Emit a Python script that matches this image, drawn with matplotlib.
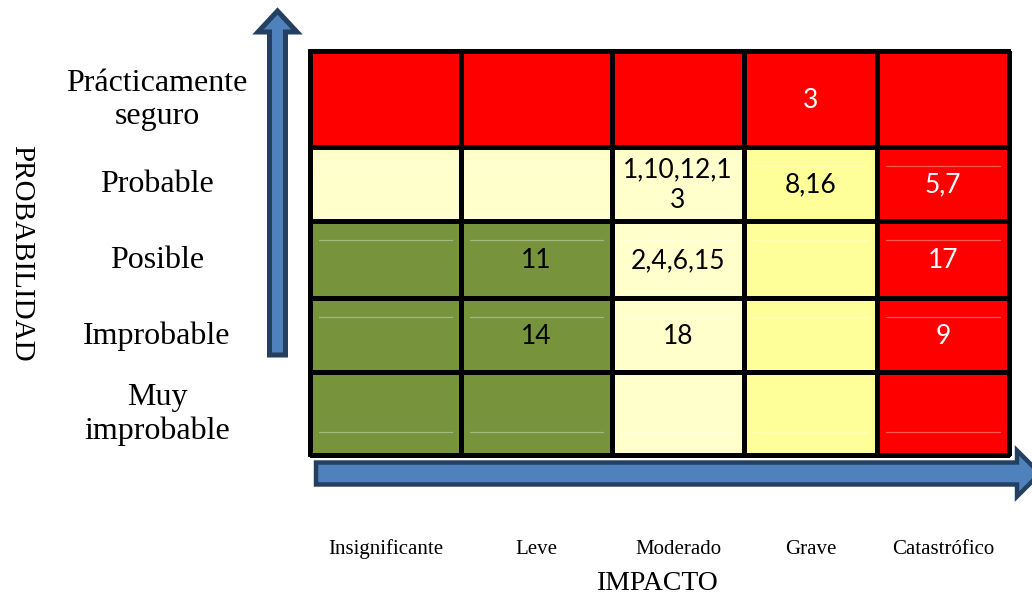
import numpy as np
import matplotlib.pyplot as plt
from matplotlib.colors import ListedColormap, BoundaryNorm
from matplotlib.patches import FancyArrow, Rectangle

# impact categories (columns, left to right)
impact = ['Insignificante', 'Leve', 'Moderado', 'Grave', 'Catastrófico']
# probability categories (rows, top to bottom)
probability = ['Prácticamente\nseguro', 'Probable', 'Posible', 'Improbable', 'Muy\nimprobable']

# 0 = bajo, 1 = medio, 2 = alto, 3 = extremo
risk_level = [
    [3, 3, 3, 3, 3],
    [1, 1, 1, 2, 3],
    [0, 0, 1, 2, 3],
    [0, 0, 1, 2, 3],
    [0, 0, 1, 2, 3],
]
risk_ids = [
    ['', '', '', '3', ''],
    ['', '', '1,10,12,1\n3', '8,16', '5,7'],
    ['', '11', '2,4,6,15', '', '17'],
    ['', '14', '18', '', '9'],
    ['', '', '', '', ''],
]

level_colors = ['#77933C', '#FFFFCC', '#FFFF99', '#FF0000']
arrow_fill = '#4F81BD'
arrow_edge = '#243F60'
serif = 'Liberation Serif'

W, H = 1032, 599
fig = plt.figure(figsize=(W / 100, H / 100), dpi=100)
ax = fig.add_axes([0, 0, 1, 1])
ax.set_xlim(0, W)
ax.set_ylim(H, 0)
ax.axis('off')

# grid layout in pixels
col_edges = np.array([310, 461, 612, 744, 877, 1009])
row_edges = np.array([51, 147, 221, 298, 372, 455])
col_mid = (col_edges[:-1] + col_edges[1:]) / 2
row_mid = (row_edges[:-1] + row_edges[1:]) / 2

cmap = ListedColormap(level_colors)
norm = BoundaryNorm([-0.5, 0.5, 1.5, 2.5, 3.5], cmap.N)
ax.pcolormesh(col_edges, row_edges, np.array(risk_level), cmap=cmap, norm=norm,
              edgecolors='black', linewidth=2.2)

# faint text-box outlines inside the cells
for i in range(1, len(probability)):
    y = row_edges[i] + 19 if i < 4 else row_edges[i + 1] - 23
    for j in range(len(impact)):
        ax.plot([col_edges[j] + 9, col_edges[j + 1] - 9], [y, y], color='white',
                alpha=0.35, lw=0.9, zorder=2)

ax.add_patch(Rectangle((col_edges[0], row_edges[0]), col_edges[-1] - col_edges[0],
                       row_edges[-1] - row_edges[0], fill=False, ec='black', lw=2.8,
                       zorder=3))

for i in range(len(probability)):
    for j in range(len(impact)):
        txt = risk_ids[i][j]
        if not txt:
            continue
        color = 'white' if risk_level[i][j] == 3 else 'black'
        ax.text(col_mid[j], row_mid[i] + 1, txt, ha='center', va='center', color=color,
                fontfamily='Lato', fontsize=19, linespacing=1.3, zorder=4)

# axis category labels
for i, lab in enumerate(probability):
    ax.text(157, row_mid[i] + 1, lab, ha='center', va='center', fontfamily=serif,
            fontsize=23, linespacing=1.22)
for j, lab in enumerate(impact):
    ax.text(col_mid[j], 549, lab, ha='center', va='center', fontfamily=serif, fontsize=15)

ax.text(21, 253, 'PROBABILIDAD', rotation=-90, ha='center', va='center',
        fontfamily=serif, fontsize=21)
ax.text(658, 583, 'IMPACTO', ha='center', va='center', fontfamily=serif, fontsize=20)

# direction arrows
ax.add_patch(FancyArrow(277.5, 355, 0, -344, width=16, head_width=39, head_length=21,
                        length_includes_head=True, fc=arrow_fill, ec=arrow_edge, lw=3.6,
                        joinstyle='miter'))
ax.add_patch(FancyArrow(316, 473.5, 724, 0, width=22, head_width=46, head_length=23,
                        length_includes_head=True, fc=arrow_fill, ec=arrow_edge, lw=3.2,
                        joinstyle='miter'))

fig.savefig('out.png', dpi=100)
